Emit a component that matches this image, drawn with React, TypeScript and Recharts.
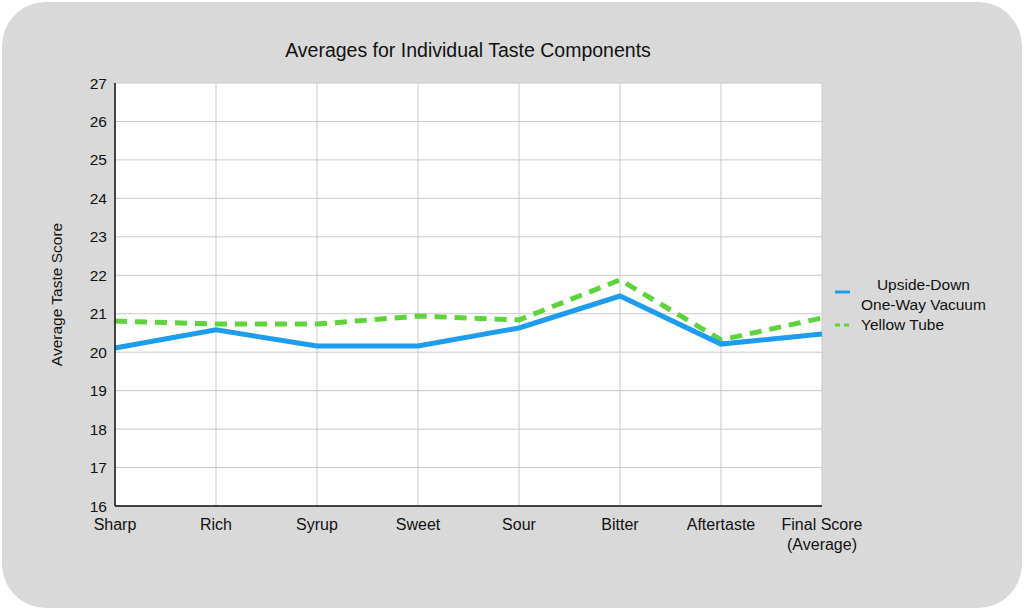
import { LineChart, Line, XAxis, YAxis, CartesianGrid } from 'recharts'

const categories = ['Sharp', 'Rich', 'Syrup', 'Sweet', 'Sour', 'Bitter', 'Aftertaste', 'Final Score\n(Average)']
const upsideDown = [20.11, 20.58, 20.16, 20.16, 20.63, 21.46, 20.21, 20.47]
const yellowTube = [20.81, 20.73, 20.73, 20.94, 20.84, 21.88, 20.32, 20.89]
const yTicks = [16, 17, 18, 19, 20, 21, 22, 23, 24, 25, 26, 27]

const data = categories.map((c, i) => ({ name: c, a: upsideDown[i], b: yellowTube[i] }))

const font = '"Liberation Sans", Arial, sans-serif'

const XTick = ({ x, y, payload }: any) => {
  const lines = String(payload.value).split('\n')
  return (
    <text x={x} y={y + 16} textAnchor="middle" fontSize={16} fill="#111" fontFamily={font}>
      {lines.map((l, i) => (
        <tspan key={i} x={x} dy={i === 0 ? 0 : 20}>{l}</tspan>
      ))}
    </text>
  )
}

export default function App() {
  return (
    <div style={{ position: 'fixed', left: 0, top: 0, width: 1024, height: 611, background: '#fff' }}>
      <div style={{ position: 'absolute', left: 2, top: 2, width: 1020, height: 606, background: '#d9d9d9', borderRadius: 44 }} />
      <div style={{ position: 'absolute', left: 0, top: 39, width: 936, textAlign: 'center', fontFamily: font, fontSize: 19.5, color: '#111' }}>
        Averages for Individual Taste Components
      </div>
      <div style={{ position: 'absolute', left: 0, top: 0 }}>
        <LineChart width={1024} height={611} data={data} margin={{ top: 83, right: 202, left: 0, bottom: 45 }}>
          <CartesianGrid stroke="#c9c9c9" fill="#fff" />
          <XAxis dataKey="name" height={60} tick={<XTick />} tickLine={false} axisLine={{ stroke: '#111', strokeWidth: 1.5 }} interval={0} />
          <YAxis
            width={115}
            domain={[16, 27]}
            ticks={yTicks}
            tickLine={false}
            axisLine={{ stroke: '#111', strokeWidth: 1.5 }}
            tick={{ fontSize: 15.5, fill: '#111', fontFamily: font }}
            label={{ value: 'Average Taste Score', angle: -90, position: 'insideLeft', offset: 56, style: { fontSize: 15.5, fill: '#111', fontFamily: font, textAnchor: 'middle' } }}
          />
          <Line dataKey="b" stroke="#5fd33a" strokeWidth={5} strokeDasharray="12 8" dot={false} isAnimationActive={false} />
          <Line dataKey="a" stroke="#1e9cf0" strokeWidth={5} dot={false} isAnimationActive={false} />
        </LineChart>
      </div>
      <div style={{ position: 'absolute', left: 833, top: 275, fontFamily: font, fontSize: 15.5, color: '#111', lineHeight: '20px' }}>
        <div style={{ display: 'flex' }}>
          <svg width={28} height={40}><line x1={2} x2={17} y1={17} y2={17} stroke="#1e9cf0" strokeWidth={3} /></svg>
          <div style={{ textAlign: 'center' }}>Upside-Down<br />One-Way Vacuum</div>
        </div>
        <div style={{ display: 'flex' }}>
          <svg width={28} height={20}><line x1={2} x2={17} y1={10} y2={10} stroke="#5fd33a" strokeWidth={3} strokeDasharray="5 4" /></svg>
          <div>Yellow Tube</div>
        </div>
      </div>
    </div>
  )
}
